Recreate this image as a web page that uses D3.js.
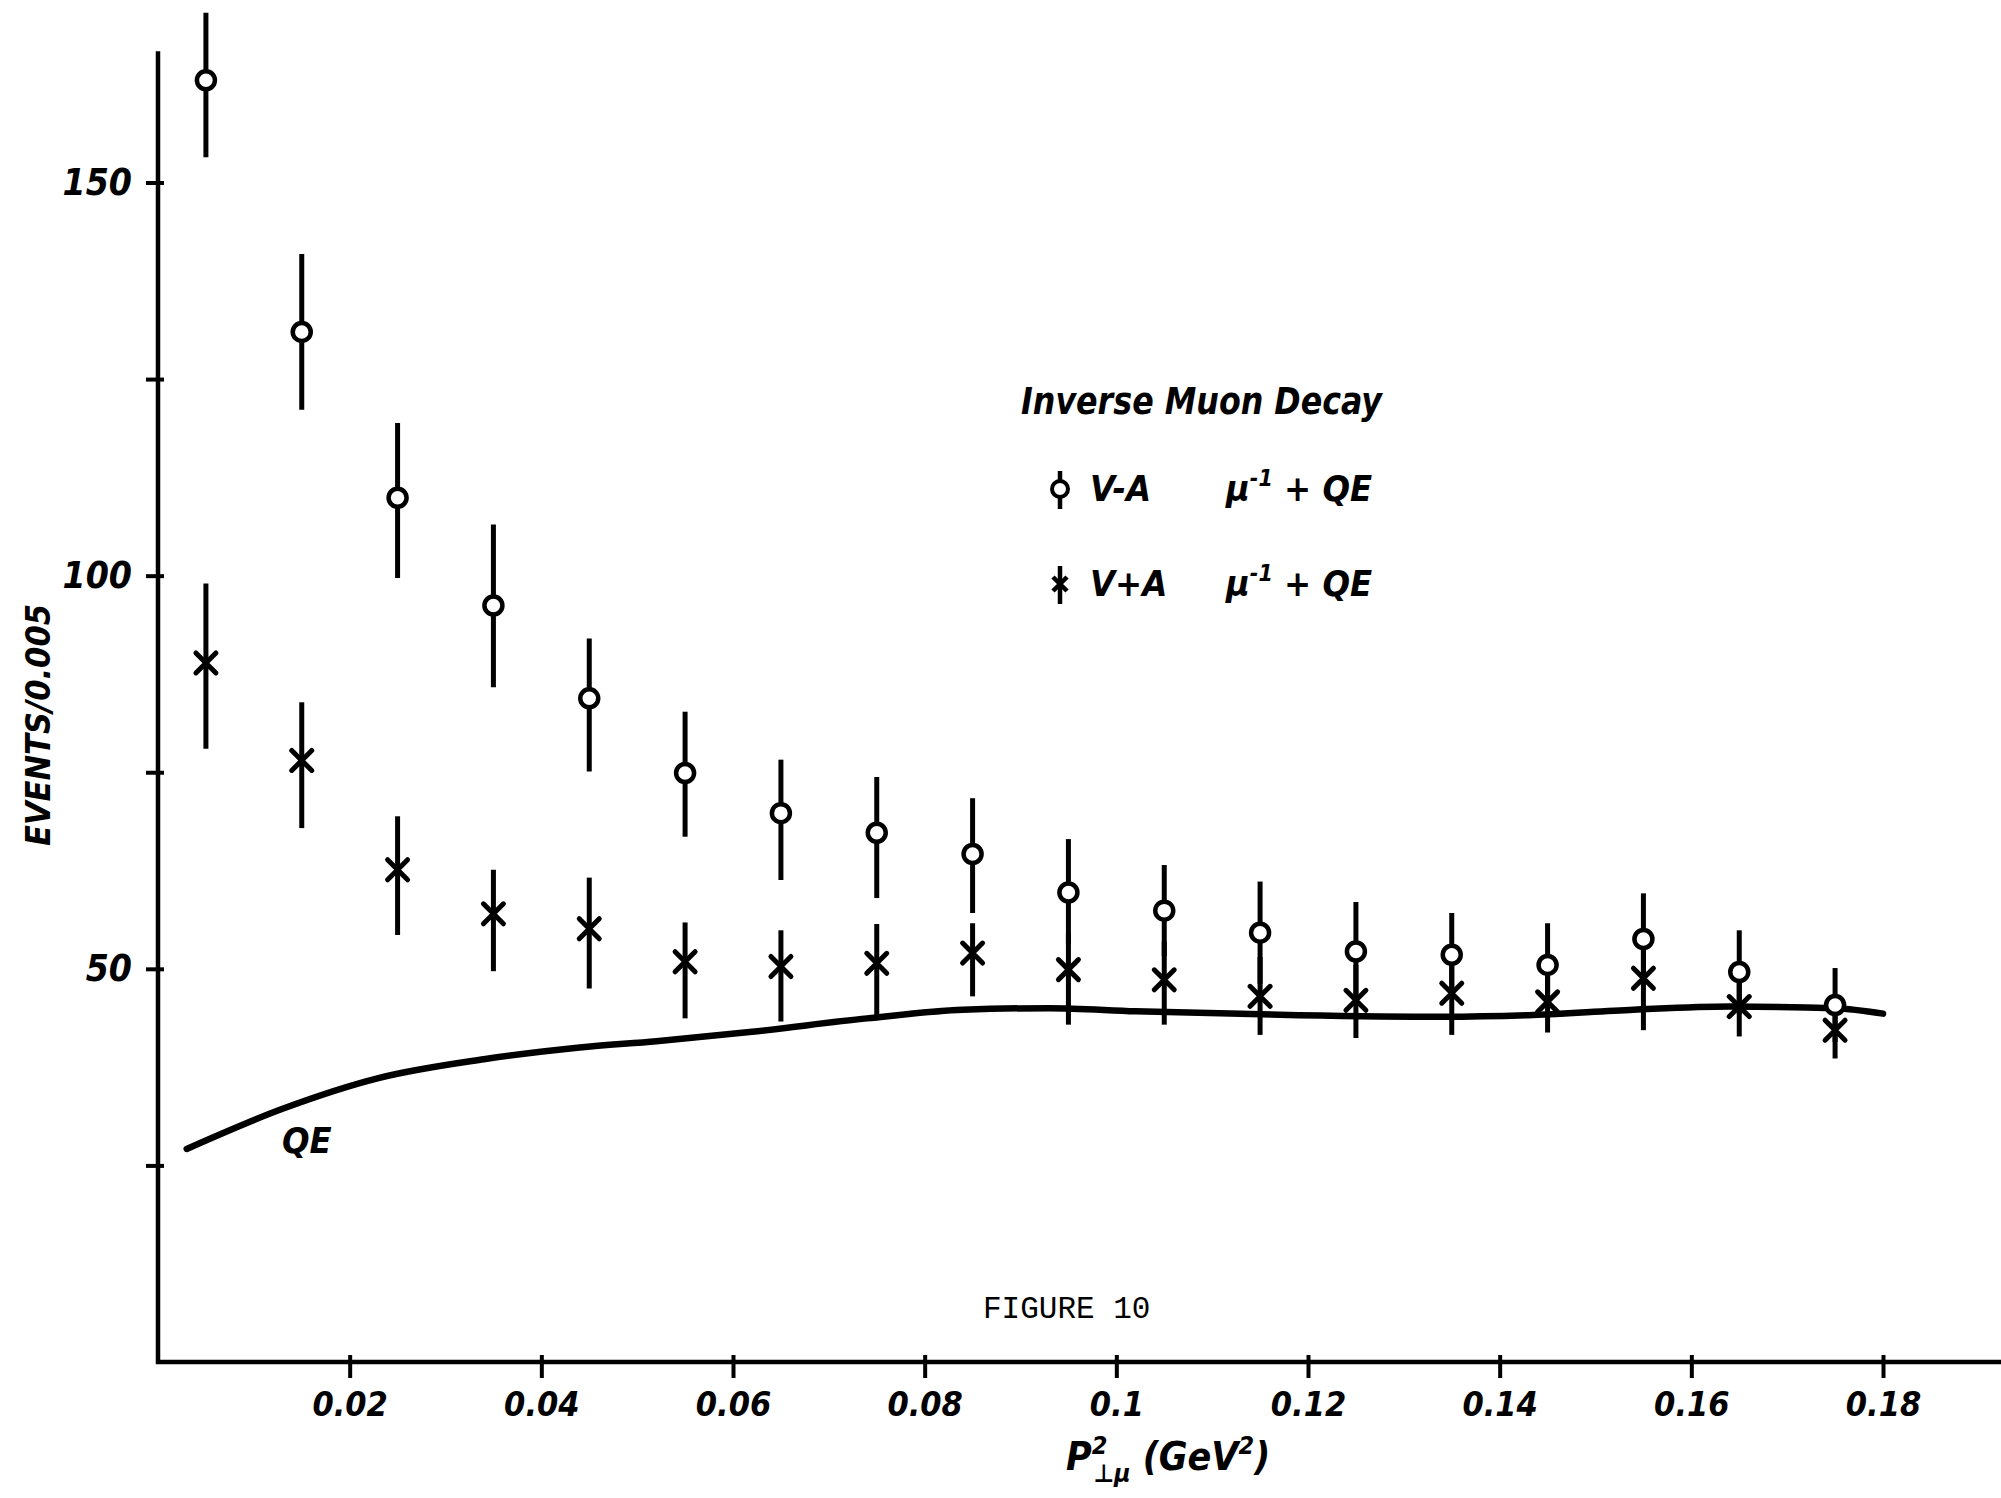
<!DOCTYPE html>
<html lang="en">
<head>
<meta charset="UTF-8">
<title>Inverse Muon Decay - Figure 10</title>
<script src="https://d3js.org/d3.v7.min.js"></script>
<style>
  body { margin: 0; background: #fff; overflow: hidden; }
  svg { display: block; }
  .hand { font-family: "DejaVu Sans Condensed", "DejaVu Sans", sans-serif; font-weight: bold; font-style: italic; fill: #000; }
  .typed { font-family: "Liberation Mono", "DejaVu Sans Mono", monospace; fill: #000; }
</style>
</head>
<body>
<svg id="chart" width="2001" height="1498"></svg>
<script>
// bin centres, P_perp^2 (GeV^2)
const binX = [0.005, 0.015, 0.025, 0.035, 0.045, 0.055, 0.065, 0.075, 0.085,
              0.095, 0.105, 0.115, 0.125, 0.135, 0.145, 0.155, 0.165, 0.175];

// V-A  (mu^-1 + QE), open circles
const vaY   = [163.0, 131.0, 109.9, 96.2, 84.4, 74.9, 69.8, 67.3, 64.6,
               59.7, 57.4, 54.6, 52.2, 51.8, 50.5, 53.8, 49.6, 45.4];
const vaHi  = [171.6, 140.9, 119.4, 106.5, 92.0, 82.7, 76.6, 74.4, 71.7,
               66.5, 63.2, 61.1, 58.5, 57.1, 55.8, 59.6, 54.9, 50.1];
const vaLo  = [153.2, 121.1, 99.7, 85.8, 75.1, 66.8, 61.3, 59.0, 57.1,
               53.2, 51.6, 48.1, 45.9, 46.5, 45.2, 48.0, 44.3, 40.7];

// V+A  (mu^-1 + QE), crosses
const vpaY  = [88.9, 76.5, 62.6, 57.0, 55.1, 50.9, 50.3, 50.7, 52.0,
               49.9, 48.6, 46.5, 46.0, 46.9, 45.8, 48.8, 45.2, 42.2];
const vpaHi = [99.0, 83.9, 69.4, 62.6, 61.6, 55.9, 54.9, 55.7, 55.8,
               54.5, 53.5, 51.5, 50.5, 51.5, 50.5, 53.5, 49.5, 46.5];
const vpaLo = [78.0, 67.9, 54.3, 49.7, 47.5, 43.7, 43.3, 44.1, 46.5,
               42.9, 42.9, 41.6, 41.2, 41.6, 41.9, 42.2, 41.4, 38.6];

// QE curve
const qeX = [0.003, 0.013, 0.023, 0.034, 0.044, 0.052, 0.062, 0.074, 0.084,
             0.093, 0.102, 0.119, 0.134, 0.143, 0.154, 0.164, 0.175, 0.180];
const qeY = [27.1, 32.2, 36.1, 38.5, 40.0, 40.8, 42.0, 43.7, 44.8,
             45.0, 44.6, 44.1, 43.9, 44.1, 44.8, 45.2, 45.0, 44.3];

const xTicks = [0.02, 0.04, 0.06, 0.08, 0.1, 0.12, 0.14, 0.16, 0.18];
const xTickLabels = ["0.02", "0.04", "0.06", "0.08", "0.1", "0.12", "0.14", "0.16", "0.18"];
const yTicks = [25, 50, 75, 100, 125, 150];
const yTickLabels = ["", "50", "", "100", "", "150"];

const svg = d3.select("#chart");
const width = +svg.attr("width");

const x = d3.scaleLinear().domain([0, 0.18]).range([158, 1883]);
const y = d3.scaleLinear().domain([0, 150]).range([1362, 182.5]);

// axes
const yAxis = d3.axisLeft(y)
    .tickValues(yTicks)
    .tickFormat((d, i) => yTickLabels[i])
    .tickSize(12)
    .tickPadding(14);
const gy = svg.append("g").attr("transform", `translate(${x(0)},0)`).call(yAxis);
gy.select(".domain").remove();
gy.selectAll(".tick line").attr("x2", -12).attr("x1", 6).attr("stroke", "#000").attr("stroke-width", 4);
gy.selectAll(".tick text").attr("class", "hand").attr("font-size", 37);

const xAxis = d3.axisBottom(x)
    .tickValues(xTicks)
    .tickFormat((d, i) => xTickLabels[i])
    .tickSize(16)
    .tickPadding(14);
const gx = svg.append("g").attr("transform", `translate(0,${y(0)})`).call(xAxis);
gx.select(".domain").remove();
gx.selectAll(".tick line").attr("y1", -7).attr("stroke", "#000").attr("stroke-width", 4);
gx.selectAll(".tick text").attr("class", "hand").attr("font-size", 34);

// axis lines (x axis runs off the right edge of the page)
svg.append("line")
    .attr("x1", x(0)).attr("x2", x(0))
    .attr("y1", y(0) + 2).attr("y2", y(166.7))
    .attr("stroke", "#000").attr("stroke-width", 4.5);
svg.append("line")
    .attr("x1", x(0) - 2).attr("x2", width)
    .attr("y1", y(0)).attr("y2", y(0))
    .attr("stroke", "#000").attr("stroke-width", 4.5);

// QE curve
const qe = qeX.map((d, i) => [d, qeY[i]]);
svg.append("path")
    .datum(qe)
    .attr("fill", "none")
    .attr("stroke", "#000")
    .attr("stroke-width", 6.5)
    .attr("stroke-linecap", "round")
    .attr("d", d3.line().x(d => x(d[0])).y(d => y(d[1])).curve(d3.curveMonotoneX));

svg.append("text").attr("class", "hand")
    .attr("x", 282).attr("y", 1153)
    .attr("font-size", 36)
    .text("QE");

// V+A crosses
const vpa = binX.map((d, i) => ({ x: d, y: vpaY[i], lo: vpaLo[i], hi: vpaHi[i] }));
const gc = svg.append("g").selectAll("g").data(vpa).join("g");
gc.append("line")
    .attr("x1", d => x(d.x)).attr("x2", d => x(d.x))
    .attr("y1", d => y(d.hi)).attr("y2", d => y(d.lo))
    .attr("stroke", "#000").attr("stroke-width", 5);
gc.append("path")
    .attr("d", d => {
        const cx = x(d.x), cy = y(d.y), s = 10;
        return `M${cx - s},${cy - s}L${cx + s},${cy + s}M${cx - s},${cy + s}L${cx + s},${cy - s}`;
    })
    .attr("stroke", "#000").attr("stroke-width", 5).attr("stroke-linecap", "round");

// V-A circles
const va = binX.map((d, i) => ({ x: d, y: vaY[i], lo: vaLo[i], hi: vaHi[i] }));
const go = svg.append("g").selectAll("g").data(va).join("g");
go.append("line")
    .attr("x1", d => x(d.x)).attr("x2", d => x(d.x))
    .attr("y1", d => y(d.hi)).attr("y2", d => y(d.lo))
    .attr("stroke", "#000").attr("stroke-width", 5);
go.append("circle")
    .attr("cx", d => x(d.x)).attr("cy", d => y(d.y))
    .attr("r", 9)
    .attr("fill", "#fff").attr("stroke", "#000").attr("stroke-width", 4.5);

// legend
svg.append("text").attr("class", "hand")
    .attr("x", 1021).attr("y", 414)
    .attr("font-size", 38)
    .attr("textLength", 361).attr("lengthAdjust", "spacingAndGlyphs")
    .text("Inverse Muon Decay");

const legendRows = [
    { label: "V-A", sym: "circle", cy: 489 },
    { label: "V+A", sym: "cross", cy: 584 }
];
legendRows.forEach(r => {
    const sx = 1060;
    svg.append("line")
        .attr("x1", sx).attr("x2", sx)
        .attr("y1", r.cy - 18).attr("y2", r.cy + 20)
        .attr("stroke", "#000").attr("stroke-width", 4.5);
    if (r.sym === "circle") {
        svg.append("circle").attr("cx", sx).attr("cy", r.cy).attr("r", 8)
            .attr("fill", "#fff").attr("stroke", "#000").attr("stroke-width", 4);
    } else {
        svg.append("path")
            .attr("d", `M${sx - 7},${r.cy - 7}L${sx + 7},${r.cy + 7}M${sx - 7},${r.cy + 7}L${sx + 7},${r.cy - 7}`)
            .attr("stroke", "#000").attr("stroke-width", 4.5);
    }
    svg.append("text").attr("class", "hand")
        .attr("x", 1090).attr("y", r.cy + 12)
        .attr("font-size", 36)
        .text(r.label);
    const t = svg.append("text").attr("class", "hand")
        .attr("x", 1226).attr("y", r.cy + 12)
        .attr("font-size", 36);
    t.append("tspan").text("μ");
    t.append("tspan").attr("dy", -15).attr("font-size", 23).text("-1");
    t.append("tspan").attr("dy", 15).text(" + QE");
});

// axis titles
svg.append("text").attr("class", "hand")
    .attr("transform", "translate(50,725) rotate(-90)")
    .attr("text-anchor", "middle")
    .attr("font-size", 34)
    .text("EVENTS/0.005");

const xt = svg.append("text").attr("class", "hand")
    .attr("x", 1066).attr("y", 1470)
    .attr("font-size", 39);
xt.append("tspan").text("P");
xt.append("tspan").attr("dy", -16).attr("font-size", 25).text("2");
xt.append("tspan").attr("dx", -14).attr("dy", 28).attr("font-size", 25).text("⊥μ");
xt.append("tspan").attr("dy", -12).text(" (GeV");
xt.append("tspan").attr("dy", -16).attr("font-size", 25).text("2");
xt.append("tspan").attr("dy", 16).text(")");

svg.append("text").attr("class", "typed")
    .attr("x", 983).attr("y", 1318)
    .attr("font-size", 31)
    .text("FIGURE 10");
</script>
</body>
</html>
